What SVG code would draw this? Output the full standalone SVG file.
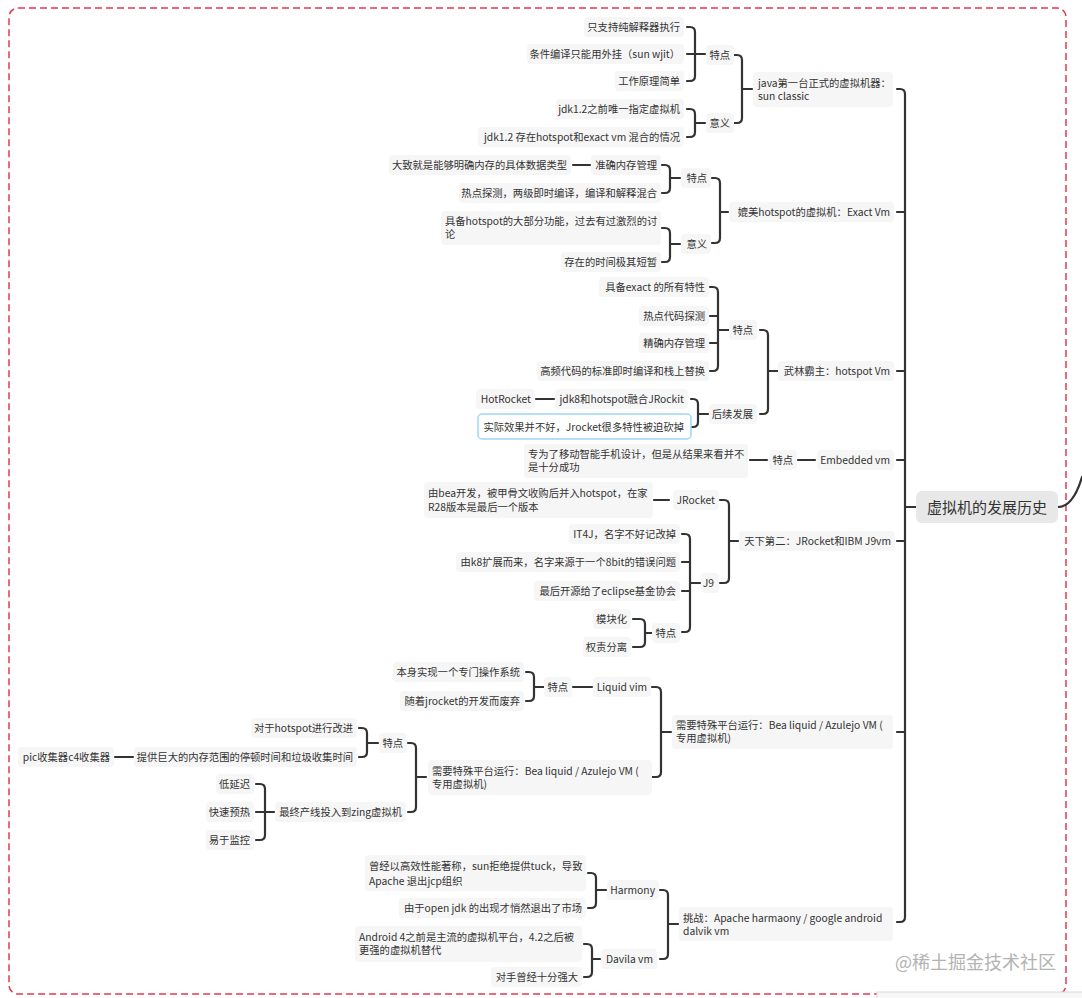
<svg xmlns="http://www.w3.org/2000/svg" width="1082" height="998" viewBox="0 0 1082 998">
<style>
.t{font-family:"Noto Sans CJK SC","Liberation Sans",sans-serif;font-size:10.3px;fill:#333}
.e{text-anchor:end}
.bg{fill:#f6f6f6}
.c{fill:none;stroke:#333;stroke-width:2.2;stroke-linecap:round;stroke-linejoin:round}
</style>
<rect x="0" y="0" width="1082" height="998" fill="#fff"/>
<rect x="9" y="8" width="1057" height="986" rx="9" fill="none" stroke="#e23a52" stroke-width="1.5" stroke-dasharray="7 4"/>
<g id="connectors" class="c">
<path d="M897,89 H900 Q905,89 905,94 V917 Q905,922 900,922 H897 M897,212 H905 M897,371 H905 M897,460 H905 M897,541 H905 M897,732 H905 M905,507 H916"/>
<path d="M1058,507 C1068,507 1076,497 1082,477"/>
<path d="M734,55 H737 Q742,55 742,60 V118 Q742,123 737,123 H734 M742,89 H752"/>
<path d="M687,27 H690 Q695,27 695,32 V76 Q695,81 690,81 H687 M687,54 H705"/>
<path d="M687,109 H690 Q695,109 695,114 V132 Q695,137 690,137 H687 M695,123 H705"/>
<path d="M712,178 H715 Q720,178 720,183 V238 Q720,243 715,243 H712 M720,212 H728"/>
<path d="M662,165 H665 Q670,165 670,170 V188 Q670,193 665,193 H662 M670,178 H680 M573,165 H590"/>
<path d="M662,228 H665 Q670,228 670,233 V257 Q670,262 665,262 H662 M670,244 H680"/>
<path d="M760,330 H763 Q768,330 768,335 V409 Q768,414 763,414 H760 M768,371 H778"/>
<path d="M710,287 H713 Q718,287 718,292 V366 Q718,371 713,371 H710 M710,316 H718 M710,343 H718 M718,330 H729"/>
<path d="M691,399 H693 Q698,399 698,404 V422 Q698,427 693,427 H691 M698,414 H708 M536,399 H554"/>
<path d="M750,460 H767 M798,460 H815"/>
<path d="M720,500 H724 Q729,500 729,505 V578 Q729,583 724,583 H720 M729,541 H738 M654,500 H669"/>
<path d="M682,534 H685 Q690,534 690,539 V627 Q690,632 685,632 H682 M682,562 H690 M682,591 H690 M690,583 H700"/>
<path d="M633,619 H640 Q645,619 645,624 V642 Q645,647 640,647 H633 M645,633 H652"/>
<path d="M652,687 H656 Q661,687 661,692 V772 Q661,777 656,777 H652 M661,732 H671 M573,687 H592"/>
<path d="M526,672 H529 Q534,672 534,677 V696 Q534,701 529,701 H526 M534,687 H544"/>
<path d="M408,743 H411 Q416,743 416,748 V807 Q416,812 411,812 H408 M416,777 H426"/>
<path d="M359,728 H362 Q367,728 367,733 V752 Q367,757 362,757 H359 M367,743 H378 M115,757 H133"/>
<path d="M256,784 H260 Q265,784 265,789 V835 Q265,840 260,840 H256 M256,812 H274"/>
<path d="M660,890 H663 Q668,890 668,895 V954 Q668,959 663,959 H660 M668,924 H678"/>
<path d="M588,873 H591 Q596,873 596,878 V903 Q596,908 591,908 H588 M596,890 H606"/>
<path d="M584,944 H587 Q592,944 592,949 V972 Q592,977 587,977 H584 M592,959 H600"/>
</g>
<g id="root"><rect x="916" y="491" width="142" height="32" rx="6" fill="#e8e8e8"/><text x="987" y="512.5" text-anchor="middle" style="font-family:'Noto Sans CJK SC','Liberation Sans',sans-serif;font-size:15px;fill:#333">虚拟机的发展历史</text></g>

<g id="n-sunclassic"><rect class="bg" x="753" y="72" width="140" height="35" rx="4"/><text class="t" x="758" y="87.2">java第一台正式的虚拟机器：<tspan x="758" y="100.2">sun classic</tspan></text></g>
<g id="n-a1"><rect class="bg" x="706" y="45" width="28" height="20" rx="4"/><text class="t e" x="730" y="58.7">特点</text></g>
<g id="n-a1a"><rect class="bg" x="584" y="17" width="100" height="20" rx="4"/><text class="t e" x="680" y="30.7">只支持纯解释器执行</text></g>
<g id="n-a1b"><rect class="bg" x="527" y="44" width="157" height="20" rx="4"/><text class="t e" x="680" y="57.7">条件编译只能用外挂（sun wjit）</text></g>
<g id="n-a1c"><rect class="bg" x="615" y="71" width="69" height="20" rx="4"/><text class="t e" x="680" y="84.7">工作原理简单</text></g>
<g id="n-a2"><rect class="bg" x="706" y="113" width="28" height="20" rx="4"/><text class="t e" x="730" y="126.7">意义</text></g>
<g id="n-a2a"><rect class="bg" x="556" y="99" width="128" height="20" rx="4"/><text class="t e" x="680" y="112.7">jdk1.2之前唯一指定虚拟机</text></g>
<g id="n-a2b"><rect class="bg" x="478" y="127" width="206" height="20" rx="4"/><text class="t e" x="680" y="140.7">jdk1.2 存在hotspot和exact vm 混合的情况</text></g>

<g id="n-exact"><rect class="bg" x="729" y="202" width="165" height="20" rx="4"/><text class="t e" x="890" y="215.7">媲美hotspot的虚拟机：Exact Vm</text></g>
<g id="n-b1"><rect class="bg" x="681" y="168" width="30" height="20" rx="4"/><text class="t e" x="707" y="181.7">特点</text></g>
<g id="n-b1a"><rect class="bg" x="591" y="155" width="70" height="20" rx="4"/><text class="t e" x="657" y="168.7">准确内存管理</text></g>
<g id="n-b1a0"><rect class="bg" x="389" y="155" width="182" height="20" rx="4"/><text class="t e" x="567" y="168.7">大致就是能够明确内存的具体数据类型</text></g>
<g id="n-b1b"><rect class="bg" x="459" y="183" width="202" height="20" rx="4"/><text class="t e" x="657" y="196.7">热点探测，两级即时编译，编译和解释混合</text></g>
<g id="n-b2"><rect class="bg" x="681" y="234" width="30" height="20" rx="4"/><text class="t e" x="707" y="247.7">意义</text></g>
<g id="n-b2a"><rect class="bg" x="441" y="211" width="220" height="34" rx="4"/><text class="t" x="445" y="224.7">具备hotspot的大部分功能，过去有过激烈的讨<tspan x="445" y="237.7">论</tspan></text></g>
<g id="n-b2b"><rect class="bg" x="561" y="252" width="100" height="20" rx="4"/><text class="t e" x="657" y="265.7">存在的时间极其短暂</text></g>

<g id="n-hotspot"><rect class="bg" x="778" y="361" width="116" height="20" rx="4"/><text class="t e" x="890" y="374.7">武林霸主：hotspot Vm</text></g>
<g id="n-c1"><rect class="bg" x="729" y="320" width="28" height="20" rx="4"/><text class="t e" x="753" y="333.7">特点</text></g>
<g id="n-c1a"><rect class="bg" x="599" y="277" width="110" height="20" rx="4"/><text class="t e" x="705" y="290.7">具备exact 的所有特性</text></g>
<g id="n-c1b"><rect class="bg" x="639" y="306" width="70" height="20" rx="4"/><text class="t e" x="705" y="319.7">热点代码探测</text></g>
<g id="n-c1c"><rect class="bg" x="639" y="333" width="70" height="20" rx="4"/><text class="t e" x="705" y="346.7">精确内存管理</text></g>
<g id="n-c1d"><rect class="bg" x="537" y="361" width="172" height="20" rx="4"/><text class="t e" x="705" y="374.7">高频代码的标准即时编译和栈上替换</text></g>
<g id="n-c2"><rect class="bg" x="709" y="404" width="48" height="20" rx="4"/><text class="t e" x="753" y="417.7">后续发展</text></g>
<g id="n-c2a"><rect class="bg" x="555" y="389" width="133" height="20" rx="4"/><text class="t e" x="684" y="402.7">jdk8和hotspot融合JRockit</text></g>
<g id="n-c2a0"><rect class="bg" x="476" y="389" width="59" height="20" rx="4"/><text class="t e" x="531" y="402.7">HotRocket</text></g>
<g id="n-c2b"><rect x="478" y="414" width="213" height="25" rx="4" fill="#fff" stroke="#9fd6f2" stroke-width="1.5"/><text class="t e" x="684" y="430.7">实际效果并不好，Jrocket很多特性被迫砍掉</text></g>

<g id="n-embedded"><rect class="bg" x="817" y="450" width="77" height="20" rx="4"/><text class="t e" x="890" y="463.7">Embedded vm</text></g>
<g id="n-d1"><rect class="bg" x="769" y="450" width="28" height="20" rx="4"/><text class="t e" x="793" y="463.7">特点</text></g>
<g id="n-d1a"><rect class="bg" x="524" y="444" width="224" height="34" rx="4"/><text class="t" x="528" y="457.7">专为了移动智能手机设计，但是从结果来看并不<tspan x="528" y="470.7">是十分成功</tspan></text></g>

<g id="n-second"><rect class="bg" x="739" y="531" width="156" height="20" rx="4"/><text class="t e" x="891" y="544.7">天下第二：JRocket和IBM J9vm</text></g>
<g id="n-e1"><rect class="bg" x="673" y="490" width="46" height="20" rx="4"/><text class="t e" x="715" y="503.7">JRocket</text></g>
<g id="n-e1a"><rect class="bg" x="424" y="482" width="229" height="36" rx="4"/><text class="t" x="428" y="496.7">由bea开发，被甲骨文收购后并入hotspot，在家<tspan x="428" y="510.7">R28版本是最后一个版本</tspan></text></g>
<g id="n-e2"><rect class="bg" x="701" y="573" width="18" height="20" rx="4"/><text class="t e" x="714" y="586.7">J9</text></g>
<g id="n-e2a"><rect class="bg" x="569" y="524" width="111" height="20" rx="4"/><text class="t e" x="676" y="537.7">IT4J，名字不好记改掉</text></g>
<g id="n-e2b"><rect class="bg" x="456" y="552" width="224" height="20" rx="4"/><text class="t e" x="676" y="565.7">由k8扩展而来，名字来源于一个8bit的错误问题</text></g>
<g id="n-e2c"><rect class="bg" x="534" y="581" width="146" height="20" rx="4"/><text class="t e" x="676" y="594.7">最后开源给了eclipse基金协会</text></g>
<g id="n-e2d"><rect class="bg" x="652" y="623" width="28" height="20" rx="4"/><text class="t e" x="676" y="636.7">特点</text></g>
<g id="n-e2d1"><rect class="bg" x="593" y="609" width="38" height="20" rx="4"/><text class="t e" x="627" y="622.7">模块化</text></g>
<g id="n-e2d2"><rect class="bg" x="583" y="637" width="48" height="20" rx="4"/><text class="t e" x="627" y="650.7">权责分离</text></g>

<g id="n-special"><rect class="bg" x="672" y="715" width="221" height="34" rx="4"/><text class="t" x="676" y="729.2">需要特殊平台运行：Bea liquid / Azulejo VM (<tspan x="676" y="742.2">专用虚拟机)</tspan></text></g>
<g id="n-f1"><rect class="bg" x="593" y="677" width="58" height="20" rx="4"/><text class="t e" x="647" y="690.7">Liquid vim</text></g>
<g id="n-f1a"><rect class="bg" x="544" y="677" width="28" height="20" rx="4"/><text class="t e" x="568" y="690.7">特点</text></g>
<g id="n-f1a1"><rect class="bg" x="393" y="662" width="131" height="20" rx="4"/><text class="t e" x="520" y="675.7">本身实现一个专门操作系统</text></g>
<g id="n-f1a2"><rect class="bg" x="400" y="691" width="124" height="20" rx="4"/><text class="t e" x="520" y="704.7">随着jrocket的开发而废弃</text></g>
<g id="n-f2"><rect class="bg" x="428" y="760" width="224" height="35" rx="4"/><text class="t" x="432" y="775.2">需要特殊平台运行：Bea liquid / Azulejo VM (<tspan x="432" y="788.2">专用虚拟机)</tspan></text></g>
<g id="n-f2a"><rect class="bg" x="379" y="733" width="28" height="20" rx="4"/><text class="t e" x="403" y="746.7">特点</text></g>
<g id="n-f2a1"><rect class="bg" x="251" y="718" width="106" height="20" rx="4"/><text class="t e" x="353" y="731.7">对于hotspot进行改进</text></g>
<g id="n-f2a2"><rect class="bg" x="134" y="747" width="223" height="20" rx="4"/><text class="t e" x="353" y="760.7">提供巨大的内存范围的停顿时间和垃圾收集时间</text></g>
<g id="n-f2a2a"><rect class="bg" x="18" y="747" width="96" height="20" rx="4"/><text class="t e" x="110" y="760.7">pic收集器c4收集器</text></g>
<g id="n-f2b"><rect class="bg" x="275" y="802" width="131" height="20" rx="4"/><text class="t e" x="402" y="815.7">最终产线投入到zing虚拟机</text></g>
<g id="n-f2b1"><rect class="bg" x="216" y="774" width="38" height="20" rx="4"/><text class="t e" x="250" y="787.7">低延迟</text></g>
<g id="n-f2b2"><rect class="bg" x="206" y="802" width="48" height="20" rx="4"/><text class="t e" x="250" y="815.7">快速预热</text></g>
<g id="n-f2b3"><rect class="bg" x="206" y="830" width="48" height="20" rx="4"/><text class="t e" x="250" y="843.7">易于监控</text></g>

<g id="n-challenge"><rect class="bg" x="679" y="907" width="214" height="34" rx="4"/><text class="t" x="683" y="921.7">挑战：Apache harmaony / google android<tspan x="683" y="934.7">dalvik vm</tspan></text></g>
<g id="n-g1"><rect class="bg" x="607" y="880" width="52" height="20" rx="4"/><text class="t e" x="655" y="893.7">Harmony</text></g>
<g id="n-g1a"><rect class="bg" x="365" y="855" width="221" height="36" rx="4"/><text class="t" x="369" y="869.7">曾经以高效性能著称，sun拒绝提供tuck，导致<tspan x="369" y="884.7">Apache 退出jcp组织</tspan></text></g>
<g id="n-g1b"><rect class="bg" x="399" y="898" width="187" height="20" rx="4"/><text class="t e" x="582" y="911.7">由于open jdk 的出现才悄然退出了市场</text></g>
<g id="n-g2"><rect class="bg" x="601" y="949" width="56" height="20" rx="4"/><text class="t e" x="653" y="962.7">Davila vm</text></g>
<g id="n-g2a"><rect class="bg" x="355" y="926" width="227" height="36" rx="4"/><text class="t" x="359" y="940.7">Android 4之前是主流的虚拟机平台，4.2之后被<tspan x="359" y="953.7">更强的虚拟机替代</tspan></text></g>
<g id="n-g2b"><rect class="bg" x="491" y="967" width="91" height="20" rx="4"/><text class="t e" x="578" y="980.7">对手曾经十分强大</text></g>

<text x="895" y="968.5" style="font-family:'Noto Sans CJK SC','Liberation Sans',sans-serif;font-size:18px;fill:#b3b3b3">@稀土掘金技术社区</text>
<rect x="877" y="992" width="210" height="10" fill="#f7f7f7" stroke="#dcdcdc" stroke-width="1"/>
</svg>
